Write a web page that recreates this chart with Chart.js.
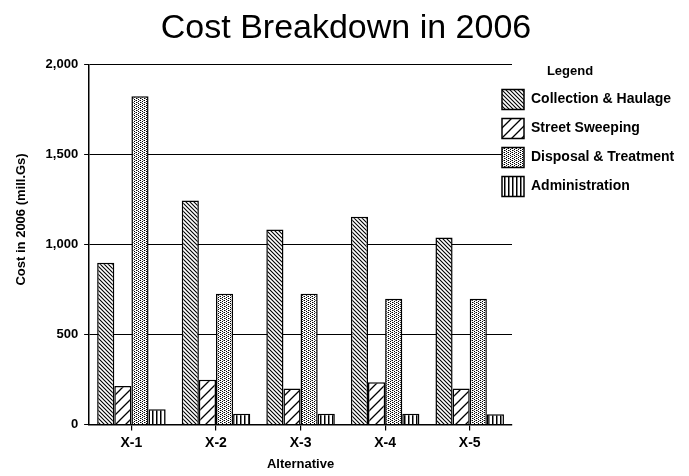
<!DOCTYPE html>
<html>
<head>
<meta charset="utf-8">
<script src="https://cdn.jsdelivr.net/npm/chart.js@4"></script>
<style>
  html, body { margin: 0; padding: 0; background: #fff; }
  #wrap { width: 689px; height: 476px; }
</style>
</head>
<body>
<div id="wrap"><canvas id="c" width="689" height="476"></canvas></div>
<script>
const categories = ['X-1', 'X-2', 'X-3', 'X-4', 'X-5'];
const collectionHaulage = [900, 1245, 1085, 1155, 1040];
const streetSweeping = [215, 250, 200, 235, 200];
const disposalTreatment = [1825, 728, 728, 700, 700];
const administration = [85, 60, 60, 60, 58];
const yTicks = [0, 500, 1000, 1500, 2000];

function makePattern(kind) {
  const c = document.createElement('canvas');
  let s;
  if (kind === 'back') s = 4;
  else if (kind === 'fwd') s = 10;
  else if (kind === 'dots') s = 4;
  else s = 4;
  c.width = s; c.height = s;
  const g = c.getContext('2d');
  g.fillStyle = '#fff';
  g.fillRect(0, 0, s, s);
  g.strokeStyle = '#000';
  g.fillStyle = '#000';
  if (kind === 'back') {
    g.lineWidth = 1.1;
    g.beginPath();
    g.moveTo(-1, -1); g.lineTo(s + 1, s + 1);
    g.moveTo(-1, s - 1); g.lineTo(1, s + 1);
    g.moveTo(s - 1, -1); g.lineTo(s + 1, 1);
    g.stroke();
  } else if (kind === 'fwd') {
    g.lineWidth = 1.3;
    g.beginPath();
    g.moveTo(-1, s + 1); g.lineTo(s + 1, -1);
    g.moveTo(-1, 1); g.lineTo(1, -1);
    g.moveTo(s - 1, s + 1); g.lineTo(s + 1, s - 1);
    g.stroke();
  } else if (kind === 'dots') {
    g.fillRect(0, 0, 1, 1);
    g.fillRect(2, 1, 1, 1);
    g.fillRect(0, 2, 1, 1);
    g.fillRect(2, 3, 1, 1);
    g.fillStyle = '#888';
    g.fillRect(1, 2, 1, 1);
    g.fillRect(3, 0, 1, 1);
  } else {
    g.fillRect(0, 0, 1.5, s);
  }
  return g.createPattern(c, 'repeat');
}

const seriesNames = ['Collection & Haulage', 'Street Sweeping', 'Disposal & Treatment', 'Administration'];
const seriesData = [collectionHaulage, streetSweeping, disposalTreatment, administration];
const seriesKinds = ['back', 'fwd', 'dots', 'vert'];

const FONT = "'Liberation Sans', Arial, Helvetica, sans-serif";

// move the legend slightly left so it overlaps the plot edge, as in the original
const legendShift = {
  id: 'legendShift',
  afterLayout(chart) {
    const l = chart.legend;
    if (!l) return;
    l.left = 493;
    l.right = chart.width;
    l.width = 154;
  }
};

new Chart(document.getElementById('c'), {
  type: 'bar',
  data: {
    labels: categories,
    datasets: seriesNames.map((n, i) => ({
      label: n,
      data: seriesData[i],
      backgroundColor: makePattern(seriesKinds[i]),
      borderColor: '#000',
      borderWidth: 1.5,
      barPercentage: 1,
      categoryPercentage: 0.81
    }))
  },
  plugins: [legendShift],
  options: {
    responsive: false,
    animation: false,
    layout: { padding: { left: 14, right: 11, top: 0, bottom: 4 } },
    plugins: {
      title: {
        display: true,
        text: 'Cost Breakdown in 2006',
        color: '#000',
        font: { family: FONT, size: 34, weight: 'normal' },
        padding: { top: 8, bottom: 16 }
      },
      legend: {
        position: 'right',
        align: 'start',
        fullSize: false,
        title: {
          display: true,
          text: 'Legend',
          color: '#000',
          font: { family: FONT, size: 13, weight: 'bold' },
          padding: { top: 0, bottom: 0 }
        },
        labels: {
          color: '#000',
          boxWidth: 22,
          boxHeight: 20,
          padding: 9,
          font: { family: FONT, size: 14, weight: 'bold' }
        }
      },
      tooltip: { enabled: false }
    },
    scales: {
      x: {
        grid: { display: true, drawOnChartArea: false, offset: false, color: '#000', tickLength: 6, lineWidth: 1.2 },
        border: { color: '#000', width: 1.5 },
        ticks: { color: '#000', font: { family: FONT, size: 14, weight: 'bold' }, padding: 4 },
        title: { display: true, text: 'Alternative', color: '#000', font: { family: FONT, size: 13, weight: 'bold' }, padding: { top: 1, bottom: 0 } }
      },
      y: {
        min: 0,
        max: 2000,
        afterBuildTicks: (axis) => { axis.ticks = yTicks.map(v => ({ value: v })); },
        grid: { color: '#000', lineWidth: 1, tickLength: 5 },
        border: { color: '#000', width: 1.5 },
        ticks: {
          color: '#000',
          font: { family: FONT, size: 13, weight: 'bold' },
          padding: 6,
          callback: (v) => Number(v).toLocaleString('en-US')
        },
        title: {
          display: true,
          text: '\u00A0'.repeat(14) + 'Cost in 2006 (mill.Gs)',
          color: '#000',
          font: { family: FONT, size: 13, weight: 'bold' },
          padding: { top: 0, bottom: 10 }
        }
      }
    }
  }
});
</script>
</body>
</html>
